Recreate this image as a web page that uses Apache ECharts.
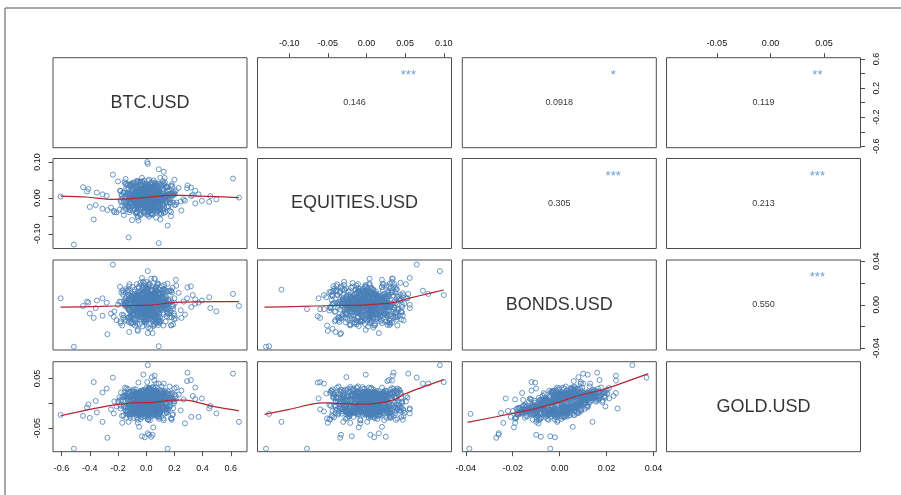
<!DOCTYPE html>
<html>
<head>
<meta charset="utf-8">
<script src="https://cdn.jsdelivr.net/npm/echarts@6/dist/echarts.min.js"></script>
<style>
  html, body { margin: 0; padding: 0; background: #ffffff; }
  #chart { width: 901px; height: 495px; }
</style>
</head>
<body>
<div id="chart"></div>
<script>
// Daily returns of four assets, one entry per observation (same order in every array)
const variableNames = ['BTC.USD', 'EQUITIES.USD', 'BONDS.USD', 'GOLD.USD'];

const btc = [
  -0.607, -0.513, 0.658, 0.616, 0.007, 0.011, 0.152, 0.089, -0.125, -0.236,
  -0.372, -0.146, 0.124, 0.089, -0.448, 0.447, 0.498, 0.395, 0.293, 0.317,
  0.176, -0.170, -0.275, 0.348, 0.371, 0.320, -0.358, -0.310, -0.310, -0.400,
  -0.350, 0.348, -0.030, -0.010, 0.020, 0.035, 0.045, -0.020, 0.040, 0.060,
  -0.055, 0.070, -0.100, 0.020, 0.100, -0.060, -0.060, 0.030, -0.060, 0.011,
  0.122, 0.035, 0.058, 0.000, 0.020, 0.080, 0.100, 0.130, -0.200, 0.200,
  0.050, -0.120, -0.080, 0.070, 0.210, -0.030, 0.150, -0.050, -0.226, 0.250,
  -0.420, 0.455, 0.275, -0.280, 0.290, -0.250, -0.230, -0.210, -0.190, -0.410,
  0.230, 0.245, 0.265, 0.330, 0.200,
  0.012, -0.045, 0.083, -0.021, 0.004, 0.061, -0.098, 0.027, -0.013, 0.142,
  -0.067, 0.035, -0.002, 0.109, -0.151, 0.048, 0.019, -0.034, 0.076, -0.008,
  0.091, -0.026, 0.157, 0.003, -0.083, 0.038, -0.117, 0.066, -0.049, 0.022,
  -0.011, 0.057, -0.139, 0.128, 0.015, -0.058, 0.099, -0.005, 0.044, -0.176,
  0.031, -0.092, 0.074, -0.037, 0.186, 0.008, -0.064, 0.117, -0.019, 0.052,
  -0.003, 0.068, -0.124, 0.025, -0.041, 0.095, 0.001, -0.072, 0.138, -0.016,
  0.047, -0.029, 0.009, -0.105, 0.081, -0.053, 0.163, 0.018, -0.087, 0.039,
  -0.134, 0.072, -0.007, 0.114, -0.033, 0.026, -0.161, 0.059, 0.006, -0.078,
  0.021, -0.056, 0.103, -0.014, 0.063, -0.095, 0.036, -0.024, 0.147, -0.047,
  0.086, -0.009, -0.071, 0.042, 0.121, -0.118, 0.014, -0.039, 0.078, 0.001,
  -0.052, 0.033, 0.171, -0.086, 0.010, 0.055, -0.022, 0.097, -0.146, 0.029,
  -0.004, 0.112, -0.061, 0.024, -0.102, 0.069, -0.035, 0.155, 0.002, -0.089,
  0.058, -0.018, 0.036, -0.127, 0.091, -0.044, 0.007, 0.134, -0.069, 0.017,
  -0.113, 0.049, -0.006, 0.081, -0.028, 0.192, -0.075, 0.012, 0.064, -0.040,
  0.023, -0.064, 0.108, 0.000, -0.156, 0.043, -0.012, 0.074, -0.097, 0.131,
  -0.031, 0.088, -0.046, 0.016, 0.126, -0.083, 0.051, -0.008, -0.142, 0.067,
  0.005, -0.022, 0.145, -0.059, 0.032, -0.002, 0.098, -0.119, 0.019, 0.060,
  -0.077, 0.039, -0.015, 0.107, -0.051, 0.011, 0.165, -0.036, 0.084, -0.101,
  0.044, -0.008, -0.133, 0.071, -0.025, 0.138, -0.063, 0.003, 0.055, -0.168,
  0.027, -0.089, 0.062, -0.017, 0.101, -0.042, 0.178, 0.013, -0.066, 0.034,
  -0.010, 0.076, -0.108, 0.037, 0.152, -0.054, 0.020, -0.030, 0.090, -0.081,
  0.060, -0.037, 0.118, -0.003, -0.094, 0.026, 0.083, -0.060, 0.008, 0.172,
  -0.020, 0.041, -0.148, 0.096, -0.006, 0.053, -0.112, 0.030, 0.125, -0.048,
  0.014, -0.073, 0.049, 0.187, -0.016, 0.085, -0.039, 0.006, -0.130, 0.070,
  -0.024, 0.108, -0.057, 0.015, 0.067, -0.090, 0.040, -0.001, 0.159, -0.123,
  0.036, -0.115, 0.071, -0.028, 0.009, 0.184, -0.062, 0.047, -0.004, -0.137,
  0.102, -0.019, -0.079, 0.058, 0.015, -0.043, 0.129, -0.097, 0.024, 0.063,
  -0.056, 0.088, 0.003, -0.164, 0.041, 0.116, -0.031, 0.072, -0.011, 0.196,
  0.019, -0.072, 0.147, -0.008, -0.121, 0.054, 0.034, -0.049, 0.081, -0.026,
  -0.091, 0.029, 0.062, 0.138, -0.015, -0.058, 0.007, 0.094, -0.178, 0.045,
  0.074, -0.038, 0.013, -0.106, 0.159, 0.026, -0.067, 0.002, 0.051, -0.084,
  -0.022, 0.119, -0.045, 0.037, -0.133, 0.068, 0.091, -0.014, 0.030, 0.008,
  0.055, -0.003, 0.173, -0.071, 0.020, -0.109, 0.043, 0.132, -0.037, -0.064,
  -0.007, 0.084, -0.052, 0.011, 0.066, -0.145, 0.028, -0.081, 0.113, 0.039,
  0.097, -0.033, 0.018, -0.096, 0.152, 0.004, -0.018, 0.061, -0.125, 0.079,
  0.142, -0.068, 0.025, -0.183, 0.057, 0.009, -0.031, 0.214, -0.112, 0.046,
  -0.015, 0.093, -0.147, 0.038, 0.120, -0.052, 0.004, -0.089, 0.166, -0.027,
  0.061, -0.125, 0.017, 0.080, -0.040, 0.203, -0.076, 0.032, -0.008, 0.110,
  -0.099, 0.044, 0.158, -0.021, -0.172, 0.071, 0.012, -0.058, 0.097, -0.134,
  0.028, -0.037, 0.086, -0.118, 0.035, -0.006, 0.131, -0.083, 0.052, 0.000,
  -0.061, 0.176, -0.019, 0.063, -0.095, 0.021, -0.143, 0.104, -0.034, 0.070,
  0.008, -0.108, 0.119, -0.046, 0.190, -0.012, 0.049, -0.161, 0.029, -0.072,
  0.125, 0.016, -0.055, 0.088, -0.128, 0.040, 0.001, -0.023, 0.145, -0.087,
  -0.042, 0.067, -0.186, 0.011, 0.078, -0.065, 0.113, 0.033, -0.102, 0.198,
  0.053, -0.014, 0.101, -0.077, -0.003, 0.162, -0.119, 0.018, 0.069, -0.048,
  -0.130, 0.082, 0.006, -0.035, 0.137, -0.091, 0.043, -0.010, -0.154, 0.026,
  0.075, -0.051, 0.181, 0.022, -0.069, 0.013, -0.030, 0.096, -0.004, -0.115,
  -0.025, 0.123, -0.083, 0.059, 0.002, -0.140, 0.085, -0.044, 0.209, 0.034,
  0.014, -0.092, 0.048, -0.008, -0.106, 0.072, 0.151, -0.063, 0.019, -0.017,
  0.107, -0.001, -0.124, 0.177, 0.039, -0.081, 0.024, -0.150, 0.066, 0.091,
  -0.073, 0.030, 0.064, -0.096, 0.128, -0.019, -0.045, 0.117, -0.006, 0.055,
  0.047, -0.159, 0.010, 0.140, -0.033, 0.083, -0.101, 0.003, -0.066, 0.169,
  -0.110, 0.058, -0.027, 0.015, 0.106, -0.054, 0.191, -0.016, 0.037, -0.079,
  0.036, 0.099, -0.070, -0.139, 0.050, 0.007, -0.088, 0.074, 0.124, -0.041,
  -0.009, -0.046, 0.133, 0.027, -0.117, 0.060, 0.011, -0.181, 0.089, 0.020
];

const equities = [
  0.004, -0.130, 0.001, 0.054, 0.100, 0.095, -0.077, -0.126, -0.110, 0.065,
  -0.060, 0.053, 0.073, 0.080, 0.030, -0.011, -0.004, -0.008, 0.035, 0.029,
  -0.051, -0.021, -0.034, 0.020, 0.010, 0.005, -0.020, 0.010, -0.030, -0.025,
  0.015, -0.015, -0.019, 0.010, 0.005, 0.025, -0.033, -0.001, -0.026, 0.034,
  -0.063, -0.055, -0.062, -0.052, -0.060, -0.055, -0.050, -0.044, -0.001, 0.016,
  0.040, 0.004, 0.033, 0.033, 0.051, 0.040, 0.056, 0.056, 0.046, 0.051,
  -0.010, -0.040, 0.010, -0.015, 0.020, 0.056, 0.030, 0.020, -0.040, -0.035,
  0.018, 0.005, -0.008, 0.006, 0.027, -0.027, -0.036, -0.040, -0.033, 0.025,
  0.028, -0.010, -0.004, 0.008, -0.020,
  0.006, -0.011, 0.014, 0.002, -0.019, 0.009, -0.004, 0.021, -0.008, 0.003,
  -0.015, 0.012, 0.001, -0.006, -0.024, 0.017, -0.002, 0.008, 0.025, -0.013,
  0.011, -0.003, 0.018, -0.021, 0.005, -0.009, -0.017, 0.013, 0.000, 0.027,
  -0.007, 0.016, -0.012, 0.004, 0.022, -0.028, 0.007, -0.001, -0.014, 0.010,
  0.019, -0.020, -0.005, 0.009, 0.012, -0.010, 0.031, -0.016, 0.002, -0.026,
  0.000, -0.004, 0.006, 0.020, -0.031, 0.014, -0.009, 0.003, 0.008, -0.018,
  -0.012, 0.023, -0.002, -0.013, 0.015, 0.004, -0.007, -0.022, 0.011, 0.001,
  0.008, -0.017, 0.029, -0.003, 0.005, -0.011, 0.013, 0.018, -0.023, 0.007,
  -0.026, 0.010, -0.008, 0.024, -0.001, 0.017, -0.019, 0.006, 0.002, -0.010,
  0.014, -0.006, 0.003, -0.015, 0.026, -0.004, 0.009, -0.027, 0.012, 0.005,
  -0.009, 0.021, -0.013, 0.001, 0.007, -0.024, 0.016, -0.005, 0.004, 0.028,
  0.013, -0.002, -0.018, 0.008, 0.019, -0.012, 0.000, 0.010, -0.021, -0.006,
  -0.003, 0.025, -0.016, -0.008, 0.004, 0.011, -0.029, 0.002, 0.015, -0.011,
  0.005, -0.014, 0.022, -0.001, -0.007, 0.009, 0.017, -0.020, 0.006, 0.003,
  -0.017, 0.007, 0.001, 0.030, -0.010, -0.003, 0.012, -0.025, 0.000, 0.008,
  0.020, -0.008, -0.022, 0.012, -0.004, 0.014, 0.000, 0.023, -0.015, -0.002,
  -0.011, 0.003, 0.007, -0.019, 0.026, -0.013, -0.006, 0.010, 0.018, -0.023,
  0.002, 0.016, -0.010, -0.005, 0.008, 0.033, -0.012, -0.017, 0.004, 0.013,
  -0.021, 0.006, 0.010, -0.004, 0.018, 0.002, -0.028, 0.014, -0.009, -0.001,
  0.009, -0.013, 0.024, 0.000, -0.016, 0.005, 0.011, -0.007, 0.019, -0.020,
  0.015, -0.010, 0.004, 0.027, -0.006, -0.018, 0.001, 0.010, -0.003, 0.006,
  -0.005, 0.022, -0.014, 0.011, -0.001, 0.016, -0.026, 0.003, -0.011, 0.009,
  -0.008, 0.004, -0.020, 0.013, 0.021, -0.002, -0.009, 0.007, 0.001, -0.016,
  0.012, 0.001, -0.004, 0.006, -0.013, 0.020, 0.008, -0.019, -0.007, 0.017,
  -0.001, 0.008, 0.014, -0.012, 0.003, -0.006, 0.019, -0.024, 0.010, 0.000,
  0.021, -0.034, 0.007, 0.015, -0.009, 0.032, -0.018, 0.003, -0.027, 0.011,
  -0.014, 0.026, -0.031, 0.004, 0.018, -0.006, 0.036, -0.022, 0.009, -0.002,
  0.030, -0.011, 0.019, -0.037, 0.001, 0.024, -0.015, 0.012, -0.029, 0.017,
  -0.005, 0.014, -0.025, 0.028, -0.033, 0.008, 0.022, -0.013, 0.035, -0.019,
  0.010, -0.029, 0.033, -0.008, 0.025, -0.021, 0.002, 0.039, -0.012, 0.020,
  -0.024, 0.005, -0.016, 0.034, -0.003, 0.016, -0.038, 0.021, 0.006, -0.030,
  0.027, -0.020, 0.012, -0.026, 0.037, -0.010, 0.018, -0.034, 0.024, -0.007,
  -0.017, 0.031, -0.004, 0.013, -0.022, 0.040, -0.028, 0.005, -0.011, 0.026,
  0.016, -0.036, 0.025, -0.014, 0.009, -0.031, 0.029, -0.019, 0.038, -0.004,
  -0.032, 0.019, -0.009, 0.023, -0.026, 0.011, 0.003, 0.030, -0.023, 0.014,
  0.028, -0.041, 0.012, -0.006, 0.035, -0.022, 0.046, -0.013, 0.003, -0.031,
  -0.019, 0.008, 0.039, -0.044, 0.016, 0.025, -0.009, 0.031, -0.036, 0.002,
  0.043, -0.027, -0.004, 0.021, -0.048, 0.010, 0.033, -0.018, 0.027, -0.011,
  -0.035, 0.019, -0.023, 0.040, 0.006, -0.039, 0.014, 0.045, -0.007, 0.024,
  0.011, -0.046, 0.030, -0.015, -0.028, 0.037, -0.002, -0.033, 0.049, -0.020,
  -0.008, 0.034, -0.040, 0.018, 0.042, -0.012, 0.026, -0.045, 0.004, 0.038,
  0.022, -0.016, 0.047, -0.030, 0.009, -0.043, -0.021, 0.015, -0.037, 0.029,
  -0.042, 0.036, -0.010, 0.005, -0.024, 0.044, 0.017, -0.029, 0.032, -0.003,
  0.039, -0.005, 0.020, -0.047, 0.028, -0.019, -0.034, 0.041, -0.014, 0.013,
  -0.026, 0.048, -0.032, 0.007, -0.011, 0.023, 0.036, -0.038, 0.019, -0.044,
  0.015, -0.023, 0.004, 0.033, -0.039, 0.011, -0.047, 0.026, 0.044, -0.008,
  -0.030, 0.020, 0.038, -0.017, 0.046, -0.025, 0.009, -0.041, 0.001, 0.034,
  0.045, -0.036, -0.014, 0.027, -0.005, 0.040, -0.028, 0.012, -0.019, -0.043,
  -0.012, 0.029, -0.045, 0.014, 0.037, -0.033, 0.021, 0.048, -0.024, 0.006,
  0.032, -0.009, 0.025, -0.039, -0.016, 0.043, -0.031, 0.003, 0.038, -0.027,
  -0.044, 0.016, -0.002, 0.036, -0.029, 0.008, 0.045, -0.020, 0.013, -0.035,
  0.019, -0.048, 0.031, -0.011, 0.024, -0.037, 0.002, 0.039, -0.042, 0.010,
  -0.003, 0.041, -0.026, 0.047, -0.043, 0.017, -0.013, 0.028, 0.006, -0.022,
  0.036, -0.030, 0.011, -0.021, 0.030, -0.046, 0.042, -0.007, 0.023, 0.044,
  -0.038, 0.005, 0.043, -0.034, 0.012, 0.026, -0.040, 0.020, -0.016, 0.031
];

const bonds = [
  0.006, -0.0385, -0.001, 0.010, 0.009, 0.031, -0.004, -0.038, 0.014, 0.037,
  -0.012, 0.006, 0.013, 0.010, -0.001, 0.007, -0.006, 0.004, 0.016, 0.017,
  -0.019, -0.019, -0.027, 0.005, 0.002, -0.002, -0.003, 0.006, -0.010, -0.008,
  0.004, 0.001, -0.004, -0.002, -0.010, -0.008, -0.026, 0.012, 0.008, 0.024,
  -0.0105, 0.009, 0.006, 0.007, -0.004, -0.004, -0.024, -0.022, -0.023, -0.026,
  -0.019, 0.024, 0.024, 0.021, 0.019, -0.007, -0.003, 0.000, 0.000, 0.006,
  -0.0195, -0.025, -0.019, -0.016, 0.023, 0.0247, 0.0195, 0.0056, -0.006, -0.012,
  0.003, -0.003, -0.009, 0.002, 0.006, -0.008, -0.011, -0.014, 0.003, 0.002,
  0.011, -0.005, 0.003, 0.009, -0.010,
  0.0042, -0.0118, 0.0071, 0.0005, -0.0063, 0.0139, -0.0021, 0.0087, -0.0154, 0.0013,
  -0.0036, 0.0102, -0.0089, 0.0058, 0.0001, -0.0127, 0.0164, -0.0048, 0.0029, -0.0075,
  0.0093, -0.0009, 0.0046, -0.0182, 0.0121, 0.0017, -0.0058, 0.0069, -0.0104, 0.0035,
  -0.0142, 0.0078, 0.0024, -0.0031, 0.0185, -0.0067, 0.0009, -0.0096, 0.0053, 0.0112,
  0.0018, -0.0053, 0.0131, -0.0114, -0.0007, 0.0061, -0.0173, 0.0039, 0.0097, -0.0026,
  0.0066, 0.0149, -0.0038, 0.0003, -0.0091, 0.0027, 0.0084, -0.0135, -0.0012, 0.0201,
  -0.0059, 0.0011, 0.0107, -0.0161, 0.0048, -0.0022, 0.0126, 0.0072, -0.0083, -0.0004,
  0.0134, -0.0098, -0.0015, 0.0056, -0.0047, 0.0191, -0.0119, 0.0033, 0.0008, -0.0066,
  -0.0023, 0.0085, -0.0146, 0.0019, 0.0117, -0.0081, -0.0003, 0.0158, -0.0039, 0.0062,
  0.0007, -0.0131, 0.0052, 0.0094, -0.0018, 0.0043, -0.0208, 0.0026, 0.0079, -0.0109,
  0.0112, 0.0036, -0.0074, -0.0027, 0.0145, -0.0002, 0.0063, -0.0152, 0.0015, 0.0089,
  -0.0086, 0.0171, 0.0021, -0.0113, 0.0038, 0.0076, -0.0044, 0.0004, -0.0127, 0.0049,
  0.0029, -0.0065, 0.0098, 0.0044, -0.0168, 0.0012, 0.0137, -0.0033, 0.0057, -0.0016,
  -0.0107, 0.0054, -0.0028, 0.0183, -0.0071, -0.0010, 0.0022, 0.0109, -0.0093, 0.0068,
  0.0081, -0.0014, 0.0035, -0.0139, 0.0006, 0.0125, -0.0057, -0.0084, 0.0163, 0.0002,
  -0.0045, 0.0093, -0.0179, 0.0016, 0.0072, -0.0036, 0.0104, 0.0041, -0.0008, -0.0122,
  0.0154, -0.0077, 0.0010, 0.0064, -0.0024, -0.0143, 0.0031, 0.0088, -0.0061, 0.0025,
  -0.0019, 0.0037, 0.0119, -0.0052, 0.0099, 0.0008, -0.0115, -0.0040, 0.0196, -0.0087,
  0.0061, -0.0158, -0.0006, 0.0027, -0.0101, 0.0082, 0.0045, -0.0011, -0.0069, 0.0133,
  -0.0130, 0.0014, 0.0073, 0.0108, -0.0042, 0.0020, -0.0187, 0.0057, 0.0034, -0.0003,
  0.0048, 0.0128, -0.0062, -0.0095, 0.0016, 0.0167, -0.0029, 0.0003, 0.0091, -0.0149,
  -0.0008, -0.0046, 0.0142, 0.0039, -0.0124, -0.0054, 0.0075, 0.0118, -0.0017, 0.0051,
  0.0103, -0.0088, 0.0025, -0.0001, 0.0059, -0.0176, 0.0013, -0.0064, 0.0146, 0.0030,
  -0.0064, 0.0071, -0.0111, 0.0157, 0.0004, 0.0040, -0.0083, 0.0022, -0.0035, 0.0096,
  0.0023, -0.0027, 0.0086, -0.0068, 0.0129, -0.0015, 0.0052, -0.0136, 0.0010, -0.0049,
  0.0137, 0.0009, -0.0097, 0.0031, -0.0058, 0.0113, -0.0005, 0.0067, -0.0161, 0.0018,
  -0.0032, 0.0176, 0.0044, -0.0120, 0.0081, -0.0073, 0.0026, -0.0013, 0.0059, 0.0106,
  0.0015, -0.0109, 0.0061, 0.0092, -0.0146, 0.0034, -0.0039, 0.0123, 0.0007, -0.0078,
  -0.0094, 0.0047, -0.0020, 0.0011, 0.0168, -0.0087, 0.0065, -0.0024, -0.0117, 0.0038,
  0.0070, -0.0036, 0.0114, -0.0153, 0.0002, 0.0055, -0.0068, 0.0140, 0.0028, -0.0011,
  -0.0050, 0.0026, -0.0132, 0.0077, 0.0043, -0.0016, 0.0189, -0.0101, 0.0012, 0.0064,
  0.0096, -0.0072, 0.0004, -0.0041, 0.0119, 0.0028, -0.0154, 0.0046, -0.0086, 0.0017,
  -0.0013, 0.0152, -0.0055, 0.0083, -0.0030, -0.0110, 0.0039, 0.0001, 0.0127, -0.0098,
  0.0034, -0.0141, 0.0090, -0.0009, 0.0063, 0.0145, -0.0052, -0.0027, 0.0020, 0.0075,
  -0.0116, 0.0058, 0.0017, 0.0101, -0.0080, 0.0005, 0.0032, -0.0165, 0.0089, -0.0043,
  0.0121, -0.0064, 0.0018, -0.0152, 0.0087, 0.0033, -0.0019, 0.0176, -0.0098, 0.0045,
  -0.0073, 0.0102, -0.0135, 0.0009, 0.0058, -0.0041, 0.0144, -0.0087, 0.0026, -0.0199,
  0.0036, -0.0117, 0.0069, 0.0195, -0.0052, 0.0015, -0.0163, 0.0081, -0.0004, 0.0128,
  -0.0158, 0.0047, 0.0124, -0.0033, -0.0091, 0.0172, 0.0007, -0.0060, 0.0099, -0.0021,
  0.0084, -0.0029, -0.0186, 0.0062, 0.0140, -0.0076, 0.0038, -0.0125, 0.0011, 0.0157,
  -0.0047, 0.0133, 0.0021, -0.0109, 0.0075, -0.0002, -0.0148, 0.0094, 0.0182, -0.0066,
  0.0010, -0.0171, 0.0106, 0.0043, -0.0037, 0.0128, 0.0060, -0.0095, -0.0024, 0.0079,
  0.0147, 0.0028, -0.0079, -0.0138, 0.0050, 0.0092, -0.0012, 0.0211, -0.0106, 0.0003,
  -0.0095, 0.0066, 0.0166, -0.0020, -0.0161, 0.0037, 0.0115, -0.0048, 0.0072, -0.0131,
  0.0059, -0.0143, -0.0007, 0.0101, 0.0025, -0.0084, 0.0190, 0.0014, -0.0055, 0.0088,
  -0.0120, 0.0019, 0.0083, -0.0063, 0.0136, -0.0174, -0.0030, 0.0067, 0.0041, -0.0008,
  0.0025, 0.0161, -0.0115, 0.0048, -0.0071, 0.0006, 0.0097, -0.0152, 0.0118, -0.0039,
  -0.0061, -0.0003, 0.0138, -0.0184, 0.0031, 0.0076, -0.0045, 0.0024, -0.0127, 0.0170,
  0.0104, -0.0089, 0.0044, 0.0013, -0.0112, 0.0155, -0.0068, 0.0087, 0.0002, -0.0034,
  -0.0016, 0.0073, -0.0156, 0.0125, 0.0046, -0.0097, 0.0019, -0.0010, 0.0164, -0.0081,
  0.0078, -0.0052, 0.0029, -0.0026, 0.0183, 0.0054, -0.0134, 0.0035, -0.0070, 0.0110,
  -0.0139, 0.0117, -0.0015, 0.0070, -0.0044, -0.0119, 0.0082, 0.0145, 0.0017, -0.0058,
  0.0041, -0.0035, 0.0152, -0.0098, 0.0008, 0.0063, -0.0179, -0.0022, 0.0096, 0.0030,
  -0.0027, 0.0095, -0.0062, 0.0032, -0.0146, 0.0119, 0.0051, -0.0011, -0.0088, 0.0203,
  0.0092, -0.0107, 0.0057, -0.0043, 0.0027, -0.0013, 0.0130, -0.0169, 0.0064, -0.0017
];

const gold = [
  -0.023, -0.091, -0.037, 0.060, 0.043, 0.077, -0.091, -0.021, -0.037, 0.052,
  0.043, 0.012, 0.040, 0.040, -0.025, -0.010, -0.020, 0.010, 0.062, 0.047,
  -0.030, -0.039, -0.069, 0.032, -0.027, -0.027, 0.005, 0.022, -0.037, -0.029,
  -0.018, 0.009, -0.066, -0.068, -0.063, -0.067, -0.063, 0.058, 0.053, 0.056,
  0.042, 0.040, 0.010, 0.020, -0.012, -0.016, -0.039, -0.015, 0.010, -0.060,
  -0.030, 0.021, 0.046, 0.031, 0.015, -0.009, -0.012, -0.020, 0.004, 0.004,
  -0.048, -0.019, 0.008, 0.021, 0.015, -0.010, -0.006, -0.047, 0.004, 0.026,
  -0.008, -0.005, -0.040, 0.030, 0.045, -0.012, -0.020, -0.006, 0.012, -0.002,
  0.018, -0.014, 0.008, 0.015, 0.030,
  0.0183, -0.0137, -0.0043, 0.0088, -0.0205, 0.0229, 0.0138, 0.0071, -0.0141, -0.0170,
  -0.0184, 0.0213, -0.0034, -0.0093, 0.0142, -0.0221, 0.0296, -0.0182, 0.0254, -0.0093,
  0.0100, 0.0146, -0.0131, -0.0203, 0.0092, -0.0094, -0.0057, 0.0254, -0.0206, -0.0107,
  -0.0133, -0.0023, 0.0146, -0.0067, 0.0218, 0.0089, -0.0156, -0.0184, 0.0210, 0.0068,
  -0.0073, 0.0050, 0.0207, -0.0051, -0.0231, 0.0142, -0.0180, -0.0071, 0.0076, 0.0141,
  0.0139, 0.0134, -0.0217, 0.0205, -0.0107, -0.0039, 0.0226, -0.0143, -0.0138, 0.0272,
  0.0061, -0.0093, 0.0091, -0.0202, 0.0192, -0.0223, 0.0169, -0.0052, -0.0035, 0.0064,
  0.0121, -0.0097, 0.0147, -0.0016, -0.0211, 0.0227, -0.0069, 0.0190, -0.0188, -0.0069,
  -0.0015, -0.0022, -0.0159, 0.0159, 0.0136, -0.0212, 0.0175, 0.0127, -0.0189, 0.0193,
  -0.0159, -0.0107, 0.0178, 0.0021, 0.0033, 0.0225, -0.0272, -0.0171, 0.0089, -0.0044,
  0.0198, -0.0126, -0.0041, -0.0151, 0.0138, 0.0117, 0.0245, -0.0168, -0.0067, -0.0006,
  -0.0179, 0.0237, 0.0172, -0.0070, -0.0103, 0.0154, -0.0186, 0.0196, -0.0121, 0.0014,
  0.0154, 0.0062, 0.0057, -0.0084, -0.0202, -0.0052, 0.0166, 0.0070, 0.0116, -0.0214,
  -0.0221, 0.0161, 0.0088, 0.0195, 0.0073, 0.0075, -0.0167, 0.0144, -0.0100, 0.0212,
  -0.0008, -0.0121, 0.0073, -0.0119, 0.0159, 0.0028, -0.0016, -0.0176, 0.0235, 0.0203,
  0.0022, -0.0030, -0.0219, -0.0106, 0.0128, 0.0056, 0.0076, 0.0222, -0.0152, -0.0123,
  0.0241, 0.0004, -0.0175, 0.0176, -0.0136, -0.0075, 0.0217, 0.0002, -0.0152, 0.0078,
  -0.0209, 0.0086, 0.0059, 0.0072, 0.0219, -0.0038, -0.0073, -0.0270, 0.0214, -0.0001,
  0.0232, -0.0177, -0.0159, 0.0151, -0.0182, 0.0003, -0.0022, 0.0183, -0.0054, 0.0130,
  -0.0095, -0.0119, 0.0150, 0.0002, 0.0127, 0.0110, -0.0301, -0.0014, 0.0181, -0.0085,
  -0.0038, 0.0212, 0.0067, -0.0203, -0.0106, 0.0151, 0.0076, 0.0155, -0.0033, -0.0134,
  0.0058, -0.0189, 0.0153, 0.0229, -0.0176, 0.0059, -0.0037, 0.0207, -0.0226, 0.0177,
  0.0065, 0.0048, -0.0092, 0.0058, -0.0091, -0.0224, 0.0130, -0.0166, 0.0239, -0.0075,
  -0.0136, -0.0003, -0.0087, 0.0206, 0.0166, -0.0110, -0.0075, 0.0153, -0.0153, 0.0134,
  0.0195, 0.0049, -0.0011, -0.0182, 0.0144, 0.0107, -0.0112, -0.0134, 0.0115, -0.0224,
  0.0066, -0.0016, -0.0086, 0.0187, 0.0013, 0.0080, -0.0168, 0.0141, -0.0162, 0.0197,
  0.0002, 0.0194, -0.0114, -0.0060, 0.0152, 0.0040, -0.0071, -0.0160, 0.0279, 0.0069,
  -0.0177, -0.0064, 0.0132, 0.0048, -0.0139, -0.0079, 0.0101, 0.0195, -0.0049, 0.0003,
  -0.0111, 0.0201, 0.0080, -0.0153, 0.0232, -0.0061, -0.0022, -0.0116, -0.0026, 0.0147,
  -0.0055, -0.0134, 0.0221, -0.0120, 0.0133, -0.0057, -0.0142, 0.0110, 0.0222, -0.0207,
  0.0045, -0.0111, -0.0178, 0.0176, -0.0045, 0.0156, 0.0224, -0.0062, -0.0012, 0.0236,
  0.0164, 0.0052, -0.0124, -0.0162, 0.0109, 0.0142, -0.0111, -0.0111, -0.0079, 0.0056,
  -0.0110, 0.0188, 0.0067, 0.0205, -0.0205, -0.0115, -0.0081, 0.0192, 0.0121, -0.0167,
  0.0181, -0.0162, 0.0035, 0.0156, -0.0095, 0.0158, 0.0012, -0.0161, 0.0140, 0.0123,
  -0.0204, -0.0053, 0.0146, 0.0102, 0.0080, -0.0102, 0.0208, -0.0178, -0.0016, 0.0035,
  -0.0065, 0.0183, -0.0058, -0.0042, 0.0294, -0.0260, 0.0027, 0.0321, -0.0288, 0.0084,
  0.0152, -0.0028, -0.0142, -0.0259, 0.0200, 0.0151, 0.0113, -0.0294, 0.0341, -0.0149,
  -0.0137, -0.0070, 0.0293, 0.0114, -0.0312, 0.0178, -0.0156, -0.0183, 0.0095, 0.0344,
  -0.0060, -0.0174, 0.0239, 0.0230, -0.0249, 0.0106, -0.0312, 0.0108, 0.0089, 0.0195,
  0.0161, 0.0255, -0.0273, -0.0146, 0.0278, -0.0081, 0.0216, 0.0090, -0.0187, 0.0058,
  -0.0326, 0.0200, -0.0135, 0.0059, 0.0010, 0.0308, -0.0288, 0.0253, 0.0028, -0.0019,
  0.0222, -0.0085, -0.0113, 0.0132, -0.0214, 0.0114, 0.0332, -0.0244, 0.0121, -0.0195,
  0.0126, -0.0166, 0.0065, -0.0256, 0.0290, -0.0150, 0.0096, 0.0103, -0.0097, 0.0184,
  -0.0014, 0.0329, 0.0069, -0.0324, -0.0123, 0.0194, -0.0082, -0.0038, -0.0184, 0.0043,
  -0.0049, -0.0252, 0.0272, 0.0171, -0.0180, 0.0069, 0.0128, 0.0317, -0.0246, 0.0226,
  0.0076, -0.0257, 0.0160, -0.0226, 0.0133, -0.0089, 0.0214, -0.0130, 0.0219, -0.0340,
  0.0190, 0.0083, -0.0328, 0.0298, 0.0005, -0.0223, 0.0096, -0.0042, 0.0212, 0.0223,
  -0.0273, 0.0186, 0.0206, -0.0111, -0.0223, 0.0301, -0.0134, -0.0141, 0.0098, 0.0144,
  0.0205, 0.0113, -0.0237, 0.0196, -0.0194, 0.0036, 0.0208, -0.0136, -0.0128, 0.0009,
  -0.0269, -0.0052, 0.0073, 0.0110, 0.0255, -0.0086, -0.0157, 0.0318, 0.0107, -0.0307,
  0.0284, 0.0038, -0.0185, 0.0249, 0.0060, -0.0205, -0.0101, 0.0172, -0.0124, 0.0022,
  -0.0127, -0.0030, 0.0212, -0.0016, 0.0257, -0.0223, -0.0152, 0.0264, -0.0280, 0.0090,
  -0.0091, 0.0228, 0.0262, -0.0328, 0.0190, -0.0234, -0.0095, -0.0096, 0.0315, -0.0154,
  0.0228, 0.0124, -0.0194, -0.0202, -0.0025, -0.0047, 0.0281, 0.0157, -0.0336, 0.0204,
  -0.0110, 0.0012, 0.0258, -0.0002, -0.0248, 0.0244, 0.0026, -0.0103, -0.0083, 0.0280
];

// Local-regression smooth lines for the lower panels, [x, y]
const smoothBtcEquities = [[-0.607, 0.0053], [-0.424, 0.0026], [-0.236, -0.0038], [-0.095, -0.0018], [0.023, 0.0026], [0.188, 0.008], [0.376, 0.0053], [0.658, 0.001]];
const smoothBtcBonds = [[-0.607, -0.0021], [-0.330, -0.0015], [-0.095, -0.0006], [0.046, 0.0], [0.188, 0.0021], [0.376, 0.0027], [0.658, 0.003]];
const smoothBtcGold = [[-0.607, -0.0247], [-0.424, -0.0134], [-0.236, -0.0034], [-0.095, 0.0012], [0.046, 0.002], [0.188, 0.0066], [0.282, 0.0066], [0.376, 0.0012], [0.517, -0.008], [0.658, -0.0148]];
const smoothEquitiesBonds = [[-0.132, -0.0021], [-0.087, -0.0015], [-0.044, -0.0006], [-0.0006, 0.0], [0.034, 0.0021], [0.0555, 0.0061], [0.0814, 0.0106], [0.100, 0.0136]];
const smoothEquitiesGold = [[-0.132, -0.022], [-0.100, -0.012], [-0.057, 0.0012], [-0.0395, 0.0], [-0.0006, -0.0014], [0.034, 0.0066], [0.051, 0.020], [0.100, 0.048]];
const smoothBondsGold = [[-0.0393, -0.038], [-0.0188, -0.0188], [-0.0073, -0.0068], [-0.0001, 0.0032], [0.0085, 0.0166], [0.0185, 0.028], [0.0378, 0.060]];

// Pairwise correlation and significance, upper triangle [row, col]
const corrPairs = [[0, 1], [0, 2], [0, 3], [1, 2], [1, 3], [2, 3]];
const corrValues = ['0.146', '0.0918', '0.119', '0.305', '0.213', '0.550'];
const corrStars = ['***', '*', '**', '***', '***', '***'];

// Tick marks and labelled ticks for the outer axes
const btcTicks = [-0.6, -0.4, -0.2, 0, 0.2, 0.4, 0.6];
const equityTicks = [-0.10, -0.05, 0, 0.05, 0.10];
const equityLeftLabels = [-0.10, 0, 0.10];
const bondTicks = [-0.04, -0.02, 0, 0.02, 0.04];
const bondRightLabels = [-0.04, 0, 0.04];
const goldTicks = [-0.05, 0, 0.05];
const goldLeftLabels = [-0.05, 0.05];
const corrScaleTicks = [-0.6, -0.4, -0.2, 0, 0.2, 0.4, 0.6];
const corrScaleLabels = [-0.6, -0.2, 0.2, 0.6];

// ---- layout ----
const colLeft = [53, 257.5, 462.3, 666.5];
const colWidth = 194;
const rowTop = [57.7, 158.5, 260, 361.7];
const rowHeight = 90;
const dataRanges = [[-0.661, 0.715], [-0.141, 0.110], [-0.0415, 0.0412], [-0.097, 0.084]];
const corrScaleRange = [-0.619, 0.619];
const textRange = [-0.04, 1.04];

const FONT = 'Liberation Sans, Arial, Helvetica, sans-serif';
const BOX = '#4d4d4d';
const POINT = '#4a80b8';
const SMOOTH = '#b52431';
const STAR = '#4a86c5';

const columns = [btc, equities, bonds, gold];
const smoothLines = {
  '1-0': smoothBtcEquities, '2-0': smoothBtcBonds, '3-0': smoothBtcGold,
  '2-1': smoothEquitiesBonds, '3-1': smoothEquitiesGold, '3-2': smoothBondsGold
};

function hiddenAxis(extra) {
  return Object.assign({
    type: 'value',
    axisLine: { show: false, onZero: false }, axisTick: { show: false },
    axisLabel: { show: false }, splitLine: { show: false }
  }, extra);
}

// margins per side, measured from the panel edge
const labelMargin = { top: 10, bottom: 12, left: 11, right: 12 };

function shownAxis(extra, ticks, labels, digits, position, rotate) {
  return Object.assign({
    type: 'value', position: position,
    axisLine: { show: false, onZero: false }, splitLine: { show: false },
    axisTick: { show: true, inside: false, length: 4.5, customValues: ticks, lineStyle: { color: BOX, width: 1 } },
    axisLabel: {
      show: true, customValues: labels, margin: labelMargin[position], rotate: rotate || 0,
      fontFamily: FONT, fontSize: 9, color: '#111',
      formatter: v => Number(v).toFixed(digits)
    }
  }, extra);
}

const grids = [], xAxes = [], yAxes = [], seriesList = [];

for (let i = 0; i < 4; i++) {
  for (let j = 0; j < 4; j++) {
    const g = grids.length;
    grids.push({
      left: colLeft[j], top: rowTop[i], width: colWidth, height: rowHeight,
      show: true, borderColor: BOX, borderWidth: 1, backgroundColor: 'transparent',
      outerBoundsMode: 'none'
    });

    if (i > j) {
      // scatter panel: x = variable j, y = variable i
      const xr = dataRanges[j], yr = dataRanges[i];
      const xIdx = xAxes.length, yIdx = yAxes.length;
      const xBase = { gridIndex: g, min: xr[0], max: xr[1] };
      const yBase = { gridIndex: g, min: yr[0], max: yr[1] };
      if (i === 3 && j === 0) xAxes.push(shownAxis(xBase, btcTicks, btcTicks, 1, 'bottom'));
      else if (i === 3 && j === 2) xAxes.push(shownAxis(xBase, bondTicks, bondTicks, 2, 'bottom'));
      else xAxes.push(hiddenAxis(xBase));
      if (j === 0 && i === 1) yAxes.push(shownAxis(yBase, equityTicks, equityLeftLabels, 2, 'left', 90));
      else if (j === 0 && i === 3) yAxes.push(shownAxis(yBase, goldTicks, goldLeftLabels, 2, 'left', 90));
      else yAxes.push(hiddenAxis(yBase));

      const xs = columns[j], ys = columns[i];
      seriesList.push({
        type: 'scatter', xAxisIndex: xIdx, yAxisIndex: yIdx,
        symbol: 'circle', symbolSize: 5, silent: true, large: false,
        itemStyle: { color: 'rgba(0,0,0,0)', borderColor: POINT, borderWidth: 1 },
        data: xs.map((x, k) => [x, ys[k]])
      });
      seriesList.push({
        type: 'line', xAxisIndex: xIdx, yAxisIndex: yIdx,
        showSymbol: false, smooth: 0.3, silent: true,
        lineStyle: { color: SMOOTH, width: 1.2 },
        data: smoothLines[i + '-' + j]
      });
    } else {
      // text panel on a unit scale
      const xIdx = xAxes.length, yIdx = yAxes.length;
      xAxes.push(hiddenAxis({ gridIndex: g, min: textRange[0], max: textRange[1], position: 'bottom' }));
      yAxes.push(hiddenAxis({ gridIndex: g, min: textRange[0], max: textRange[1], position: 'left' }));
      if (i === 0 && j === 1) xAxes.push(shownAxis({ gridIndex: g, min: dataRanges[1][0], max: dataRanges[1][1] }, equityTicks, equityTicks, 2, 'top'));
      if (i === 0 && j === 3) xAxes.push(shownAxis({ gridIndex: g, min: dataRanges[3][0], max: dataRanges[3][1] }, goldTicks, goldTicks, 2, 'top'));
      if (i === 0 && j === 3) yAxes.push(shownAxis({ gridIndex: g, min: corrScaleRange[0], max: corrScaleRange[1] }, corrScaleTicks, corrScaleLabels, 1, 'right', 90));
      if (i === 2 && j === 3) yAxes.push(shownAxis({ gridIndex: g, min: dataRanges[2][0], max: dataRanges[2][1] }, bondTicks, bondRightLabels, 2, 'right', 90));

      const texts = [];
      if (i === j) {
        texts.push({ value: [0.5, 0.5], label: { formatter: variableNames[i], fontSize: 18, color: '#000' } });
      } else {
        const p = corrPairs.findIndex(c => c[0] === i && c[1] === j);
        texts.push({ value: [0.5, 0.5], label: { formatter: corrValues[p], fontSize: 9, color: '#000' } });
        texts.push({ value: [0.8, 0.83], label: { formatter: corrStars[p], fontSize: 13, color: STAR } });
      }
      seriesList.push({
        type: 'scatter', xAxisIndex: xIdx, yAxisIndex: yIdx,
        symbol: 'circle', symbolSize: 1, silent: true,
        itemStyle: { color: 'rgba(0,0,0,0)' },
        label: { show: true, position: 'inside', fontFamily: FONT },
        data: texts
      });
    }
  }
}

const chart = echarts.init(document.getElementById('chart'), null, { renderer: 'canvas' });
chart.setOption({
  animation: false,
  backgroundColor: '#ffffff',
  grid: grids,
  xAxis: xAxes,
  yAxis: yAxes,
  series: seriesList,
  graphic: [
    { type: 'line', shape: { x1: 5, y1: 8, x2: 5, y2: 495 }, style: { stroke: '#8c8c8c', lineWidth: 1.5 } },
    { type: 'line', shape: { x1: 5, y1: 8, x2: 901, y2: 8 }, style: { stroke: '#8c8c8c', lineWidth: 1.5 } }
  ]
});
</script>
</body>
</html>
